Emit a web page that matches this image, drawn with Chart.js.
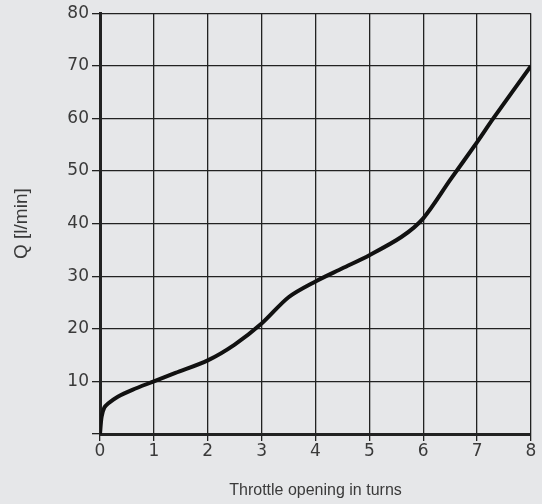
<!DOCTYPE html>
<html>
<head>
<meta charset="utf-8">
<script src="https://cdn.jsdelivr.net/npm/chart.js@4"></script>
<style>
  html,body{margin:0;padding:0;background:#e6e7e9;}
  #wrap{width:542px;height:504px;}
</style>
</head>
<body>
<div id="wrap"><canvas id="chartFlow"></canvas></div>
<script>
/* throttle characteristic, values */
const turns = [0, 0.03, 0.08, 0.15, 0.33, 0.6, 1, 1.4, 2, 2.5, 3, 3.5, 4, 4.5, 5, 5.6, 6, 6.5, 7, 7.3, 8];
const flow  = [0, 3.3, 5, 5.8, 7.1, 8.4, 10, 11.6, 14, 17, 21, 26, 29, 31.5, 34, 37.5, 41, 48.3, 55.5, 60, 70];
const xTicks = [0, 1, 2, 3, 4, 5, 6, 7, 8];
const yTicks = [0, 10, 20, 30, 40, 50, 60, 70, 80];

const ink = '#222';
const label = '#3a3a3a';

document.addEventListener('DOMContentLoaded',()=>{
  const ctx = document.getElementById('chartFlow').getContext('2d');
  new Chart(ctx,{
    type:'scatter',
    data:{
      datasets:[{
        data:turns.map((t,i)=>({x:t,y:flow[i]})),
        showLine:true,
        borderColor:'#111',
        borderWidth:4,
        pointRadius:0,
        tension:0.3
      }]
    },
    options:{
      responsive:true,
      maintainAspectRatio:false,
      animation:false,
      layout:{padding:{left:0,right:11,top:11,bottom:0}},
      plugins:{legend:{display:false},tooltip:{enabled:false}},
      scales:{
        x:{
          type:'linear',min:0,max:8,
          afterBuildTicks:s=>{s.ticks=xTicks.map(v=>({value:v}));},
          afterFit:s=>{s.height=70;},
          grid:{color:ink,lineWidth:1.3,tickLength:7},
          border:{color:ink,width:3},
          ticks:{color:label,font:{family:'DejaVu Sans',size:17},padding:0,maxRotation:0},
          title:{display:true,text:'Throttle opening in turns',color:label,
                 font:{family:'Liberation Sans',size:16},padding:{top:16}}
        },
        y:{
          min:0,max:80,
          afterBuildTicks:s=>{s.ticks=yTicks.map(v=>({value:v}));},
          afterFit:s=>{s.width=100;},
          grid:{color:ink,lineWidth:1.3,tickLength:8},
          border:{color:ink,width:3},
          ticks:{color:label,font:{family:'DejaVu Sans',size:17},padding:3,
                 callback:v=>v===0?'':v},
          title:{display:true,text:'Q [l/min]',color:label,
                 font:{family:'Liberation Sans',size:19},padding:{top:10,bottom:0}}
        }
      }
    }
  });
});
</script>
</body>
</html>
